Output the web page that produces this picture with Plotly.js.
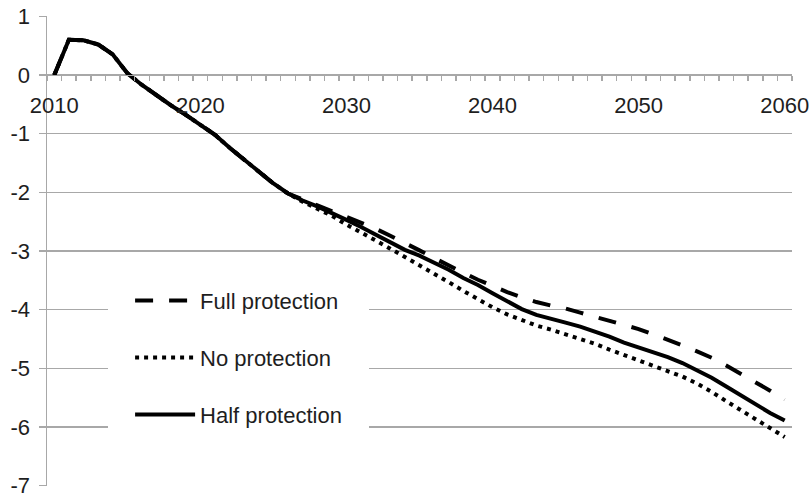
<!DOCTYPE html>
<html>
<head>
<meta charset="utf-8">
<script src="https://cdn.plot.ly/plotly-3.0.1.min.js"></script>
<style>html,body{margin:0;padding:0;background:#fff;}#chart{width:812px;height:498px;}</style>
</head>
<body>
<div id="chart"></div>
<script>
var years = [];
for (var yr = 2010; yr <= 2060; yr++) years.push(yr);

var common = [0, 0.6, 0.59, 0.52, 0.35, 0.03, -0.17, -0.35, -0.52, -0.68, -0.84, -1.02, -1.24, -1.45, -1.65, -1.85, -2.02];

var fullTail = [-2.12, -2.22, -2.32, -2.42, -2.52, -2.62, -2.74, -2.86, -2.99, -3.12, -3.25, -3.37, -3.49, -3.60, -3.70, -3.79, -3.87, -3.93, -3.98, -4.05, -4.12, -4.19, -4.26, -4.33, -4.42, -4.51, -4.61, -4.71, -4.82, -4.95, -5.09, -5.23, -5.38, -5.53];
var noTail = [-2.16, -2.28, -2.40, -2.55, -2.68, -2.82, -2.96, -3.10, -3.24, -3.38, -3.53, -3.68, -3.82, -3.96, -4.08, -4.18, -4.27, -4.34, -4.42, -4.50, -4.58, -4.68, -4.77, -4.86, -4.95, -5.05, -5.14, -5.26, -5.40, -5.56, -5.71, -5.86, -6.01, -6.17];
var halfTail = [-2.14, -2.24, -2.35, -2.47, -2.59, -2.72, -2.86, -2.98, -3.08, -3.20, -3.32, -3.46, -3.58, -3.72, -3.86, -3.99, -4.09, -4.15, -4.22, -4.29, -4.37, -4.46, -4.56, -4.64, -4.72, -4.81, -4.91, -5.03, -5.16, -5.31, -5.46, -5.61, -5.76, -5.89];

var fullProtection = common.concat(fullTail);
var noProtection = common.concat(noTail);
var halfProtection = common.concat(halfTail);

var seriesNames = ['Full protection', 'No protection', 'Half protection'];
var xTickVals = [2010, 2020, 2030, 2040, 2050, 2060];
var xTickText = ['2010', '2020', '2030', '2040', '2050', '2060'];
var yTickVals = [1, 0, -1, -2, -3, -4, -5, -6, -7];
var yTickText = ['1', '0', '-1', '-2', '-3', '-4', '-5', '-6', '-7'];

var gridColor = '#a8a8a8';
var textColor = '#1e1e1e';

var traces = [
  {x: years, y: fullProtection, name: seriesNames[0], mode: 'lines', legendgroup: 'a',
   line: {color: '#000', width: 4, dash: '18px,16px'}},
  {x: years, y: noProtection, name: seriesNames[1], mode: 'lines', legendgroup: 'b',
   line: {color: '#000', width: 4, dash: '4px,5px'}},
  {x: years, y: halfProtection, name: seriesNames[2], mode: 'lines', legendgroup: 'c',
   line: {color: '#000', width: 4}}
];

var layout = {
  width: 812, height: 498,
  margin: {l: 47, r: 20, t: 16, b: 12, pad: 0},
  paper_bgcolor: '#fff', plot_bgcolor: '#fff',
  font: {family: '"Liberation Sans", Arial, sans-serif', size: 22, color: textColor},
  showlegend: true,
  legend: {x: 0.082, y: 0.486, xanchor: 'left', yanchor: 'top', bgcolor: '#fff',
           bordercolor: '#fff', borderwidth: 22, itemwidth: 60, tracegroupgap: 25.5,
           font: {size: 22, color: textColor}},
  xaxis: {
    range: [2009.5, 2060.5], anchor: 'free', position: 0.875,
    showgrid: false, zeroline: false, showline: true, linecolor: gridColor, linewidth: 1.5,
    tickmode: 'array', tickvals: xTickVals, ticktext: xTickText, ticks: '', ticklabelstandoff: 10,
    ticklabeloverflow: 'allow',
    minor: {tickmode: 'linear', tick0: 2009.5, dtick: 1, ticks: 'outside', ticklen: 5,
            tickcolor: gridColor, tickwidth: 1.5, showgrid: false},
    tickfont: {size: 22, color: textColor}, fixedrange: true
  },
  yaxis: {
    range: [-7.005, 1.005], domain: [0, 1],
    tickmode: 'array', tickvals: yTickVals, ticktext: yTickText,
    showgrid: true, gridcolor: gridColor, gridwidth: 1.5, zeroline: false,
    showline: true, linecolor: gridColor, linewidth: 1.5,
    ticks: 'outside', ticklen: 7, tickcolor: gridColor, tickwidth: 1.5,
    ticklabelstandoff: 4, ticklabeloverflow: 'allow',
    tickfont: {size: 22, color: textColor}, fixedrange: true
  }
};

Plotly.newPlot('chart', traces, layout, {displayModeBar: false, staticPlot: true});
</script>
</body>
</html>
